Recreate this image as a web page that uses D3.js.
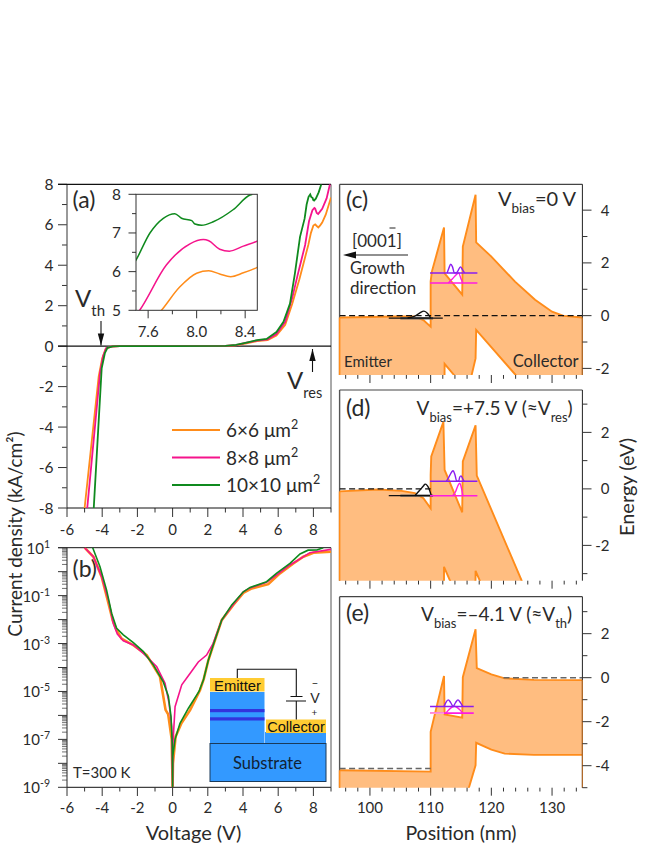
<!DOCTYPE html>
<html><head><meta charset="utf-8">
<script src="https://cdn.jsdelivr.net/npm/d3@7"></script>
<style>
html,body{margin:0;padding:0;background:#fff}
svg{display:block}
text{font-family:"Lato","Open Sans",sans-serif;fill:#2a2a2a}
</style></head><body>
<svg id="c" width="654" height="846"></svg>
<script>
// ---------- data: I-V linear panel (voltage V, current density kA/cm2)
const ivOrange=[[-5.0,-8],[-4.2,-1.5],[-4.0,-0.6],[-3.8,-0.12],[-3.5,-0.02],[-3,0],[0,0],[3,0.01],[3.6,0.04],[4.2,0.14],[4.8,0.25],[5.4,0.3],[5.9,0.52],[6.4,1.05],[6.8,2.1],[7.2,3.3],[7.5,4.3],[7.71,5],[7.86,5.6],[8.0,5.96],[8.1,6.02],[8.19,5.94],[8.28,5.87],[8.385,5.97],[8.5,6.11],[8.7,6.5],[9,7.35]];
const ivMagenta=[[-4.85,-8],[-4.12,-1.3],[-3.95,-0.5],[-3.78,-0.1],[-3.5,-0.02],[-3,0],[0,0],[3,0.01],[3.6,0.05],[4.2,0.17],[4.8,0.27],[5.4,0.33],[5.9,0.6],[6.4,1.2],[6.8,2.4],[7.1,3.5],[7.3,4.2],[7.53,5],[7.75,6.17],[7.945,6.72],[8.055,6.83],[8.1,6.8],[8.19,6.58],[8.27,6.53],[8.385,6.66],[8.5,6.79],[8.75,7.3],[8.94,8]];
const ivGreen=[[-4.48,-8],[-4.03,-1.1],[-3.85,-0.35],[-3.7,-0.08],[-3.4,-0.01],[-3,0],[0,0],[3,0.01],[3.6,0.06],[4.2,0.18],[4.8,0.3],[5.34,0.36],[5.9,0.7],[6.3,1.2],[6.67,2.1],[6.95,3.6],[7.24,5.4],[7.5,6.3],[7.615,7.0],[7.725,7.38],[7.82,7.5],[7.875,7.38],[7.96,7.32],[7.986,7.23],[8.04,7.2],[8.137,7.29],[8.3,7.6],[8.44,7.98],[8.46,8]];
// ---------- data: I-V log panel
const logOrange=[[-5,10],[-4.5,4.2],[-4.03,0.6],[-3.7,0.07],[-3.4,0.009],[-3.18,0.0036],[-2.9,0.0016],[-2.23,0.00085],[-1.47,0.00033],[-0.72,4.2e-5],[-0.4,1.7e-6],[-0.25,1.1e-6],[-0.05,1e-7],[0,1e-9],[0.02,1e-8],[0.17,1.3e-7],[0.5,4.7e-7],[1,1.7e-6],[1.56,1.15e-5],[1.78,3.5e-5],[2.03,0.0002],[2.31,0.00085],[2.79,0.0095],[3.45,0.041],[4.02,0.13],[4.5,0.2],[5.44,0.3],[6.1,0.85],[6.86,2.2],[7.43,4.2],[8,6.2],[9,6.8]];
const logMagenta=[[-5,10],[-4.5,4.2],[-4.03,0.62],[-3.65,0.066],[-3.37,0.0069],[-3.14,0.0025],[-2.8,0.0013],[-2.23,0.00087],[-1.66,0.00039],[-0.9,0.000107],[-0.43,2.2e-5],[-0.2,3.2e-6],[-0.05,3.4e-7],[0,1e-9],[0.02,7e-8],[0.14,2.3e-6],[0.52,1.9e-5],[1,5.8e-5],[1.46,0.00017],[1.93,0.00033],[2.3,0.001],[2.79,0.0095],[3.36,0.035],[4.02,0.145],[4.4,0.21],[5.34,0.36],[5.9,0.72],[6.67,1.9],[7.24,3.4],[7.8,6.2],[9,8.5]];
const logGreen=[[-4.54,10],[-4.125,1.6],[-3.75,0.17],[-3.46,0.018],[-3.18,0.0043],[-2.8,0.0023],[-2.23,0.0011],[-1.66,0.00046],[-1.09,0.000126],[-0.53,2.5e-5],[-0.24,6.3e-6],[-0.09,8.9e-7],[-0.02,6.9e-8],[0,1e-9],[0.01,2e-8],[0.14,1e-7],[0.42,4.7e-7],[0.9,2e-6],[1.5,1e-5],[1.75,3e-5],[2.03,0.0002],[2.31,0.00087],[2.79,0.0095],[3.36,0.041],[4.02,0.145],[4.4,0.22],[5.34,0.38],[5.9,0.85],[6.67,2.24],[7.24,5.5],[7.7,7.9],[8.2,8],[8.56,10]];
// ---------- data: band profiles (position nm, energy eV)
const cbC=[[95,-0.07],[100,-0.05],[104,-0.03],[107.4,-0.03],[108.8,-0.17],[110,-0.42],[110,1.3],[110.2,1.67],[112.2,3.34],[112.3,1.6],[115.2,0.8],[115.3,2.62],[117.4,4.58],[117.5,2.78],[120,2.24],[123.9,1.29],[127.2,0.6],[130,0.15],[131.9,-0.01],[135,-0.07]];
const vbC=[[95,-5],[112.2,-5],[112.3,-1.83],[114.4,-2.4],[115.2,-5],[116.5,-2.5],[117.4,-1.62],[117.5,-0.54],[124,-2.25],[126,-2.7],[135,-5]];
const cbD=[[95,-0.09],[101.4,-0.02],[105.2,-0.07],[107.4,-0.15],[108.8,-0.33],[110,-0.69],[110,0.5],[110.1,1.15],[112.1,2.37],[112.3,0.67],[115.2,-0.83],[115.3,0.97],[117.4,2.25],[117.6,0.47],[125,-3.25],[126,-3.7]];
const vbD=[[95,-6],[112.2,-6],[112.2,-2.76],[113.5,-3.4],[117.3,-6],[117.4,-2.9],[118.4,-3.4],[126,-6]];
const cbE=[[95,-4.21],[110,-4.27],[110,-2.46],[112.2,0.08],[112.3,-1.67],[115.2,-1.82],[115.3,0.02],[117.4,2.2],[117.6,0.43],[120,0.15],[122.2,-0.03],[127,-0.1],[135,-0.11]];
const vbE=[[95,-8],[115.8,-8],[116.3,-5],[117.4,-3.98],[117.5,-2.96],[120,-3.27],[122.2,-3.45],[127,-3.51],[135,-3.51]];
// ---------- data: confined levels [start, end, energy] and wave functions
const levelsC={purple:[109.9,117.7,1.62],magenta:[109.9,117.7,1.24],black:[103.1,112,-0.09],shade:[105,110.4,-0.1]};
const levelsD={purple:[109.9,117.7,0.27],magenta:[109.9,117.7,-0.24],black:[103.1,110.4,-0.24],shade:[105,110.4,-0.24]};
const levelsE={purple:[109.9,117.1,-1.31],magenta:[109.9,117.1,-1.61],pale:[109.9,112.2,-1.61]};
const psiPurpleC=[[112.7,1.62],[113.0,1.8],[113.3,1.95],[113.6,1.85],[113.9,1.62],[114.2,1.62],[114.5,1.7],[114.9,1.85],[115.3,1.72],[115.6,1.62]];
const psiMagentaC=[[112.9,1.24],[113.6,1.4],[114.2,1.55],[114.6,1.62],[115,1.4],[115.3,1.24]];
const psiBlackC=[[106.2,-0.09],[107.4,-0.02],[108.2,0.1],[108.9,0.17],[109.5,0.08],[110,-0.09]];
const psiPurpleD=[[112.6,0.27],[113,0.42],[113.7,0.64],[114,0.5],[114.3,0.27],[114.6,0.27],[114.8,0.42],[115,0.46],[115.3,0.35],[115.5,0.27]];
const psiMagentaD=[[113.6,-0.24],[114.1,-0.1],[114.5,0.12],[114.8,0.2],[115.1,0],[115.3,-0.24]];
const psiBlackD=[[107.4,-0.24],[108.2,-0.05],[108.8,0.1],[109.1,0.17],[109.7,0.02],[110.1,-0.24]];
const psiPurpleE=[[112.2,-1.31],[112.5,-1.13],[112.9,-1.01],[113.3,-1.13],[113.7,-1.31],[114.1,-1.13],[114.5,-1.01],[114.9,-1.13],[115.3,-1.31]];
const psiMagentaE=[[112.5,-1.61],[113.9,-1.3],[115.3,-1.61]];
// ---------- data: ticks and labels
const vTicks=[-6,-4,-2,0,2,4,6,8];
const jTicks=[8,6,4,2,0,-2,-4,-6,-8];
const legendLabels=["6×6 μm","8×8 μm","10×10 μm"];
const insetXTicks=[7.6,8.0,8.4];
const insetXMinor=[7.8,8.2];
const insetYTicks=[5,6,7,8];
const posTicks=[100,110,120,130];
const colors={orange:"#ff8c1a",magenta:"#f5148c",green:"#0f8a1e",band:"#ff8c1a",fill:"#ffbd80",purple:"#8a1cf0",pink:"#ff1ce0"};

const svg=d3.select("#c");
const line=(x,y)=>d3.line().x(d=>x(d[0])).y(d=>y(d[1]));
const smooth=(x,y)=>d3.line().x(d=>x(d[0])).y(d=>y(d[1])).curve(d3.curveMonotoneX);
let clipN=0;
function clip(l,t,r,b){const id="cl"+(clipN++);svg.append("clipPath").attr("id",id).append("rect").attr("x",l).attr("y",t).attr("width",r-l).attr("height",b-t);return id;}
function txt(g,x,y,s,size,anchor){return g.append("text").attr("x",x).attr("y",y).attr("font-size",size).attr("text-anchor",anchor||"start").text(s);}
function sub(g,x,y,a,b,size,rest,ss){
  const s=ss||size*0.62, dy=size*0.38;
  const t=g.append("text").attr("x",x).attr("y",y).attr("font-size",size);
  t.append("tspan").text(a);
  t.append("tspan").attr("dy",dy).attr("font-size",s).text(b);
  if(rest)t.append("tspan").attr("dy",-dy).text(rest);
  return t;
}
function hl(x1,y1,x2,y2,c,w,dash){const l=svg.append("line").attr("x1",x1).attr("y1",y1).attr("x2",x2).attr("y2",y2).attr("stroke",c).attr("stroke-width",w);if(dash)l.attr("stroke-dasharray",dash);return l;}
function arrow(x,y1,y2){
  hl(x,y1,x,y2,"#111",1.1);
  const d=y2>y1?1:-1;
  svg.append("path").attr("d",`M${x-3.2},${y2-d*12}L${x+3.2},${y2-d*12}L${x},${y2}Z`).attr("fill","#111");
}

// ======== panel (a)
const xV=d3.scaleLinear().domain([-6,9]).range([67,331]);
const yA=d3.scaleLinear().domain([-8,8]).range([508,184.3]);
const gA=svg.append("g");
const cA=clip(67,184.3,331,508);
hl(67,184.3,67,508,"#555",1.2);
hl(331,184.3,331,508,"#555",1);
hl(58,184.3,331,184.3,"#111",1.2);
hl(67,508,331,508,"#111",1);
hl(58,346.2,331,346.2,"#111",1.2);
gA.selectAll(".yt").data(d3.range(-8,8.1,1)).join("line").attr("x1",d=>d%2==0?58:62).attr("x2",67).attr("y1",d=>yA(d)).attr("y2",d=>yA(d)).attr("stroke","#333").attr("stroke-width",1);
jTicks.forEach(d=>txt(gA,53.5,yA(d)+5.5,d,15.5,"end"));
gA.selectAll(".xt").data(d3.range(-6,9.1,1)).join("line").attr("x1",d=>xV(d)).attr("x2",d=>xV(d)).attr("y1",508).attr("y2",d=>d%2==0?517:512.5).attr("stroke","#333").attr("stroke-width",1);
vTicks.forEach(d=>txt(gA,xV(d),534.5,d,15,"middle"));
const pA=svg.append("g").attr("clip-path",`url(#${cA})`);
[[ivOrange,colors.orange],[ivMagenta,colors.magenta],[ivGreen,colors.green]].forEach(([d,c])=>pA.append("path").attr("d",line(xV,yA)(d)).attr("fill","none").attr("stroke",c).attr("stroke-width",1.8));
txt(gA,72.5,208,"(a)",23);
sub(gA,75,307,"V","th",24,null,15);
arrow(101,321,345.5);
sub(gA,287,389,"V","res",24,null,14.5);
arrow(312.5,372,349);
legendLabels.forEach((s,i)=>{
  const y=430+i*27.5;
  hl(172,y,220,y,[colors.orange,colors.magenta,colors.green][i],1.8);
  const t=txt(gA,226,y+7,s,19);
  t.append("tspan").attr("dy",-8).attr("font-size",12.5).text("2");
});
// inset
const xI=d3.scaleLinear().domain([7.5,8.5]).range([136,257.3]);
const yI=d3.scaleLinear().domain([5,8]).range([310.3,194.3]);
const cI=clip(136,194.3,257.3,310.3);
svg.append("rect").attr("x",136).attr("y",194.3).attr("width",121.3).attr("height",116).attr("fill","#fff");
const pI=svg.append("g").attr("clip-path",`url(#${cI})`);
[[ivOrange,colors.orange],[ivMagenta,colors.magenta],[ivGreen,colors.green]].forEach(([d,c])=>pI.append("path").attr("d",smooth(xI,yI)(d)).attr("fill","none").attr("stroke",c).attr("stroke-width",1.5));
svg.append("rect").attr("x",136).attr("y",194.3).attr("width",121.3).attr("height",116).attr("fill","none").attr("stroke","#333").attr("stroke-width",1);
d3.range(5,8.01,0.5).forEach(v=>hl(v%1==0?128.5:132,yI(v),136,yI(v),"#333",1));
insetYTicks.forEach(v=>txt(gA,121,yI(v)+5.5,v,15.5,"end"));
insetXTicks.forEach(v=>hl(xI(v),310.3,xI(v),318.3,"#333",1));
insetXMinor.forEach(v=>hl(xI(v),310.3,xI(v),314.3,"#333",1));
insetXTicks.forEach(v=>txt(gA,xI(v),336.7,v.toFixed(1),15,"middle"));

// ======== panel (b)
const yB=d3.scaleLog().domain([1e-9,10]).range([787.3,547.7]);
const gB=svg.append("g");
const cB=clip(67,547.7,331,787.3);
hl(58,547.7,331,547.7,"#111",1);hl(67,787.3,331,787.3,"#111",1);hl(67,547.7,67,787.3,"#222",1);hl(331,547.7,331,787.3,"#555",1);
d3.range(-9,1).forEach(e=>{
  [2,3,4,5,6,7,8,9].forEach(m=>hl(62,yB(m*10**e),67,yB(m*10**e),"#333",0.7));
});
d3.range(-9,2).forEach(e=>hl(58,yB(10**e),67,yB(10**e),"#333",1));
[1,-1,-3,-5,-7,-9].forEach(e=>{
  const t=gB.append("text").attr("x",50).attr("y",yB(10**e)+6).attr("font-size",15).attr("text-anchor","end").text("10");
  t.append("tspan").attr("dy",-6).attr("font-size",10.5).text(e);
});
d3.range(-6,9.1,1).forEach(d=>hl(xV(d),787.3,xV(d),d%2==0?796:791.5,"#333",1));
vTicks.forEach(d=>txt(gB,xV(d),813,d,15,"middle"));
const pB=svg.append("g").attr("clip-path",`url(#${cB})`);
pB.append("path").attr("d",line(xV,yB)(logOrange)).attr("fill","none").attr("stroke",colors.orange).attr("stroke-width",2.6);
pB.append("path").attr("d",line(xV,yB)(logMagenta)).attr("fill","none").attr("stroke",colors.magenta).attr("stroke-width",1.6);
pB.append("path").attr("d",line(xV,yB)(logGreen)).attr("fill","none").attr("stroke",colors.green).attr("stroke-width",1.6);
txt(gB,72.5,576.7,"(b)",23);
txt(gB,73,778,"T=300 K",15);
txt(gB,193.5,840,"Voltage (V)",20,"middle");
gB.append("text").attr("transform","translate(22,534) rotate(-90)").attr("font-size",19).attr("text-anchor","middle").text("Current density (kA/cm²)");
// device schematic
const dev=svg.append("g");
const R=(x,y,w,h,f)=>dev.append("rect").attr("x",x).attr("y",y).attr("width",w).attr("height",h).attr("fill",f);
R(210,692,54.5,52,"#3399ff");R(265,732,61,12,"#3399ff");
R(210,678,54.5,13.5,"#ffcc33");R(266,719.5,60,13.5,"#ffcc33");
R(210,709,54.5,3.2,"#3333dd");R(210,717.3,54.5,3.2,"#3333dd");
dev.append("rect").attr("x",210).attr("y",743.5).attr("width",116).attr("height",38).attr("fill","#3399ff").attr("stroke","#1a3a5a").attr("stroke-width",1);
dev.append("path").attr("d","M237.3,678V669.3H296.3V696.5M290.5,696.5H302.5M286,701H306M296.3,701V719.5").attr("fill","none").attr("stroke","#111").attr("stroke-width",1.1);
const dt=(x,y,s,size)=>{dev.append("text").attr("x",x).attr("y",y).attr("font-size",size).attr("text-anchor","middle").style("font-family","Liberation Sans,Arial,sans-serif").style("fill","#111").text(s);};
dt(237.5,690.5,"Emitter",14.8);dt(296,731.5,"Collector",14.6);
txt(dev,267.5,769,"Substrate",16.5,"middle").style("fill","#123");
txt(dev,315,703,"V",14,"middle");txt(dev,315,686.5,"−",11,"middle");txt(dev,314.5,715.5,"+",10,"middle");

// ======== energy band panels
const xP=d3.scaleLinear().domain([95,135]).range([339.6,582.4]);
function band(o){
  const y=d3.scaleLinear().domain(o.dom).range(o.range);
  const T=o.range[1],B=o.range[0];
  hl(339.6,T,339.6,B,"#555",1.4);
  const id=clip(339.6,o.range[1],582.4,o.range[0]);
  const g=svg.append("g").attr("clip-path",`url(#${id})`);
  const poly=o.cb.concat(o.vb.slice().reverse());
  g.append("path").attr("d",line(xP,y)(poly)+"Z").attr("fill",colors.fill);
  g.append("path").attr("d",line(xP,y)(o.cb)).attr("fill","none").attr("stroke",colors.band).attr("stroke-width",1.9);
  g.append("path").attr("d",line(xP,y)(o.vb)).attr("fill","none").attr("stroke",colors.band).attr("stroke-width",1.9);
  const lev=(l,c,w)=>g.append("line").attr("x1",xP(l[0])).attr("x2",xP(l[1])).attr("y1",y(l[2])).attr("y2",y(l[2])).attr("stroke",c).attr("stroke-width",w);
  const wave=(d,c)=>g.append("path").attr("d",smooth(xP,y)(d)).attr("fill","none").attr("stroke",c).attr("stroke-width",1.4);
  if(o.psiB)g.append("path").attr("d",smooth(xP,y)(o.psiB)+"Z").attr("fill","#fff");
  if(o.lev.shade)lev(o.lev.shade,"#666",2.4);
  if(o.lev.black)lev(o.lev.black,"#111",1.2);
  wave(o.psiM,colors.pink);
  wave(o.psiP,colors.purple);
  if(o.psiB)wave(o.psiB,"#111");
  lev(o.lev.magenta,colors.pink,o.mw||1.5);
  if(o.lev.pale)lev(o.lev.pale,"#ff9ad8",o.mw||1.5);
  lev(o.lev.purple,colors.purple,1.5);
  (o.dash||[]).forEach(d=>g.append("line").attr("x1",xP(d[0])).attr("x2",xP(d[1])).attr("y1",y(d[2])).attr("y2",y(d[2])).attr("stroke",d[3]).attr("stroke-width",1.4).attr("stroke-dasharray","6 3.5"));
  // frame: the filled part of the side edges is orange
  hl(339.6,T,582.4,T,"#444",1.2);
  hl(339.6,y(o.cb[0][1]),339.6,B,colors.band,1.6);
  hl(582.4,T,582.4,B,"#222",1);
  if(o.rightEdge)hl(582.4,y(o.rightEdge[0]),582.4,Math.min(y(o.rightEdge[1]),B),"#b06a2a",1.2);
  d3.range(Math.ceil(o.dom[0]),Math.floor(o.dom[1])+1).forEach(v=>{
    const major=((v%2)+2)%2==0;
    hl(582.4,y(v),major?591.5:587.4,y(v),"#333",1);
    if(major&&o.labels.includes(v))txt(svg,609.5,y(v)+5.5,String(v),15,"end");
  });
  d3.range(96,135,2).forEach(v=>{
    hl(xP(v),B,xP(v),v%10==0?B+8:B+3.8,"#333",1);
  });
}
band({dom:[-2.25,4.98],range:[375,184.3],cb:cbC,vb:vbC,lev:levelsC,psiP:psiPurpleC,psiM:psiMagentaC,psiB:psiBlackC,dash:[[95,135,0,"#111"]],labels:[4,2,0,-2],rightEdge:[-0.07,-2.25]});
band({dom:[-3.25,3.5],range:[580.7,390],cb:cbD,vb:vbD,lev:levelsD,psiP:psiPurpleD,psiM:psiMagentaD,psiB:psiBlackD,dash:[[95,110,0,"#111"]],labels:[2,0,-2]});
band({dom:[-5,3.68],range:[787.7,596.7],cb:cbE,vb:vbE,lev:levelsE,psiP:psiPurpleE,psiM:psiMagentaE,mw:1.8,dash:[[95,110,-4.13,"#666"],[122,135,0,"#666"]],labels:[2,0,-2,-4],rightEdge:[-0.11,-5]});

const gP=svg.append("g");
posTicks.forEach(v=>txt(gP,xP(v),813,v,15,"middle"));
txt(gP,461,840,"Position (nm)",19.5,"middle");
gP.append("text").attr("transform","translate(634,487) rotate(-90)").attr("font-size",20).attr("text-anchor","middle").text("Energy (eV)");
txt(gP,346,208,"(c)",23);txt(gP,346,415.7,"(d)",23);txt(gP,346,621,"(e)",23);
sub(gP,498,205.7,"V","bias",20,"=0 V",13.5);
sub(gP,416.5,415,"V","bias",19,"=+7.5 V (≈V",13).call(t=>{t.append("tspan").attr("dy",7).attr("font-size",13).text("res");t.append("tspan").attr("dy",-7).text(")");});
sub(gP,421,621,"V","bias",19,"=–4.1 V (≈V",13).call(t=>{t.append("tspan").attr("dy",7).attr("font-size",13).text("th");t.append("tspan").attr("dy",-7).text(")");});
txt(gP,377,246.7,"[0001]",17,"middle");
hl(389.5,228,395.5,228,"#222",1);
hl(355,255,408,255,"#222",1.1);
svg.append("path").attr("d","M343,255L356,251.5V258.5Z").attr("fill","#111");
txt(gP,350,274,"Growth",16.5);
txt(gP,350,294,"direction",17);
txt(gP,344,366.7,"Emitter",15);
txt(gP,512.7,366.7,"Collector",16.5);
</script></body></html>
